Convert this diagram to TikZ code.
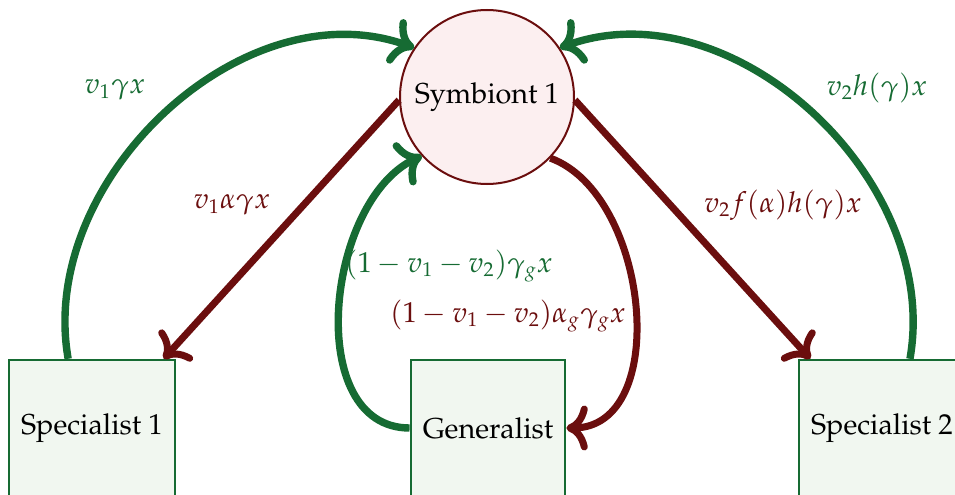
\documentclass[tikz,border=0pt]{standalone}
\usepackage[T1]{fontenc}
\usepackage{mathpazo}
\usepackage{tikz}
\usetikzlibrary{arrows.meta}
\definecolor{hostgreen}{RGB}{22,107,51}
\definecolor{symmaroon}{RGB}{107,14,14}
\definecolor{symfill}{RGB}{252,239,240}
\definecolor{hostfill}{RGB}{241,247,240}

\begin{document}
\begin{tikzpicture}[
  x=0.5pt, y=0.5pt,
  every node/.style={font=\fontsize{14.4}{17}\selectfont},
  symbiont/.style={circle, draw=symmaroon, fill=symfill, line width=1pt,
    minimum size=87pt, inner sep=0pt},
  hostbox/.style={rectangle, draw=hostgreen, fill=hostfill, line width=1.2pt,
    minimum height=68pt, inner xsep=6pt},
  gain/.style={-{Computer Modern Rightarrow[scale=1.15]}, hostgreen, line width=3.7pt},
  loss/.style={-{Computer Modern Rightarrow[scale=1.15]}, symmaroon, line width=3.5pt},
  gainlabel/.style={text=hostgreen},
  losslabel/.style={text=symmaroon}
]
\useasboundingbox (0,0) rectangle (955,494);
\clip (0,0) rectangle (955,494);

% Symbiont and the three host types.
\node[symbiont] (sym) at (487,397) {Symbiont 1};
\node[hostbox] (spec1) at (92,66) {Specialist 1};
\node[hostbox] (gen) at (488,66) {Generalist};
\node[hostbox] (spec2) at (882,66) {Specialist 2};

% Transmission into the symbiont pool.
\draw[gain] (spec1.109) to[out=100, in=160] (sym.146);
\draw[gain] (spec2.68) to[out=80, in=20] (sym.34);
\draw[gain] (gen.west) to[out=180, in=205] (sym.222);

% Transmission out to the hosts.
\draw[loss] (sym.182) -- (spec1.44);
\draw[loss] (sym.-2) -- (spec2.136);
\draw[loss] (sym.-44) to[out=-20, in=0] (gen.east);

% Rates.
\node[gainlabel] (rate1) at (115,404) {\(v_1\gamma x\)};
\node[gainlabel] (rate2) at (877,406) {\(v_2h(\gamma)x\)};
\node[gainlabel] (rateg) at (449,228) {\((1-v_1-v_2)\gamma_g x\)};
\node[losslabel] (loss1) at (232,289) {\(v_1\alpha\gamma x\)};
\node[losslabel] (loss2) at (783,289) {\(v_2f(\alpha)h(\gamma)x\)};
\node[losslabel] (lossg) at (508,178) {\((1-v_1-v_2)\alpha_g\gamma_g x\)};
\end{tikzpicture}
\end{document}
